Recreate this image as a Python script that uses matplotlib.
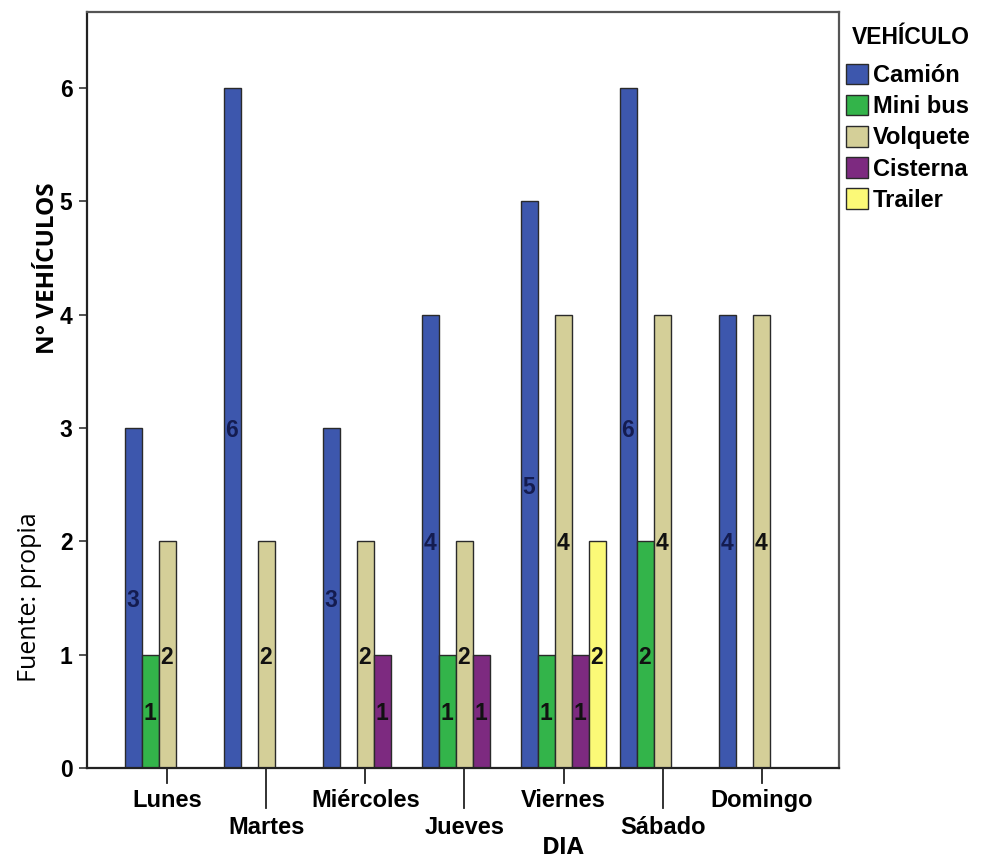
import matplotlib
matplotlib.use("Agg")
import matplotlib.pyplot as plt
from matplotlib.patches import Patch
import numpy as np

dias = ["Lunes", "Martes", "Miércoles", "Jueves", "Viernes", "Sábado", "Domingo"]
vehiculos = ["Camión", "Mini bus", "Volquete", "Cisterna", "Trailer"]

camion = [3, 6, 3, 4, 5, 6, 4]
mini_bus = [1, 0, 0, 1, 1, 2, 0]
volquete = [2, 2, 2, 2, 4, 4, 4]
cisterna = [0, 0, 1, 1, 1, 0, 0]
trailer = [0, 0, 0, 0, 2, 0, 0]

series = [camion, mini_bus, volquete, cisterna, trailer]
colores = ["#3d57ad", "#33b44a", "#d4cf98", "#7d2a80", "#fbf977"]
color_etiqueta = ["#141c50", "#111111", "#111111", "#111111", "#111111"]

FUENTE = "Liberation Sans"
TAM = 17

fig = plt.figure(figsize=(9.82, 8.59), dpi=100)
ax = fig.add_axes([0.0886, 0.1059, 0.7658, 0.8801])

x = np.arange(len(dias))
ancho = 0.172
n = len(series)
for i, (vals, col) in enumerate(zip(series, colores)):
    offs = (i - (n - 1) / 2) * ancho
    for xi, v in zip(x, vals):
        if v <= 0:
            continue
        ax.bar(xi + offs, v, width=ancho, color=col, edgecolor="#2a2a2a",
               linewidth=1.0, zorder=2)
        ax.text(xi + offs - 0.008, v / 2, str(v), ha="center",
                va="center_baseline", fontsize=16.5, fontweight="bold",
                color=color_etiqueta[i], family=FUENTE, zorder=3)

ax.set_xlim(-0.81, 6.78)
ax.set_ylim(0, 6.67)
ax.set_yticks(range(0, 7))
ax.set_yticklabels([str(v) for v in range(0, 7)], fontsize=16.5,
                   fontweight="bold", family=FUENTE)

ax.set_xticks(x)
ax.set_xticklabels([])
ax.tick_params(axis="x", length=0)
ax.tick_params(axis="y", length=5.5, width=1.2, color="#333333", pad=5)

# staggered category labels with short and long tick marks
trans = ax.get_xaxis_transform()
for xi, nombre in zip(x, dias):
    if xi % 2 == 0:
        largo, base = -0.0198, -0.0516
    else:
        largo, base = -0.0529, -0.0873
    ax.plot([xi, xi], [0, largo], transform=trans, color="#222222",
            lw=1.3, clip_on=False)
    ax.text(xi, base, nombre, transform=trans, ha="center", va="baseline",
            fontsize=TAM, fontweight="bold", family=FUENTE)

for s in ax.spines.values():
    s.set_color("#555555")
    s.set_linewidth(1.6)
ax.spines["left"].set_color("#222222")
ax.spines["bottom"].set_color("#222222")

fig.text(0.5735, 0.0125, "DIA", ha="center", va="center", fontsize=17.5,
         fontweight="bold", family="Open Sans")
fig.text(0.049, 0.688, "N° VEHÍCULOS", ha="center", va="center", rotation=90,
         fontsize=17.5, fontweight="bold", family="Open Sans")
fig.text(0.030, 0.305, "Fuente: propia", ha="center", va="center",
         rotation=90, fontsize=18, family="Open Sans")

# legend: title placed separately above the colour keys
fig.text(852 / 982, 1 - 37 / 859, "VEHÍCULO", ha="left", va="center",
         fontsize=16.5, fontweight="bold", family=FUENTE)
handles = [Patch(facecolor=c, edgecolor="#2a2a2a", linewidth=1.0)
           for c in colores]
leg = fig.legend(handles, vehiculos, loc="upper left",
                 bbox_to_anchor=(846 / 982, 1 - 64 / 859), frameon=False,
                 handlelength=0.95, handleheight=0.95,
                 handletextpad=0.2, labelspacing=0.33, borderaxespad=0,
                 borderpad=0,
                 prop={"family": FUENTE, "weight": "bold", "size": 17})

fig.savefig("out.png", dpi=100)
